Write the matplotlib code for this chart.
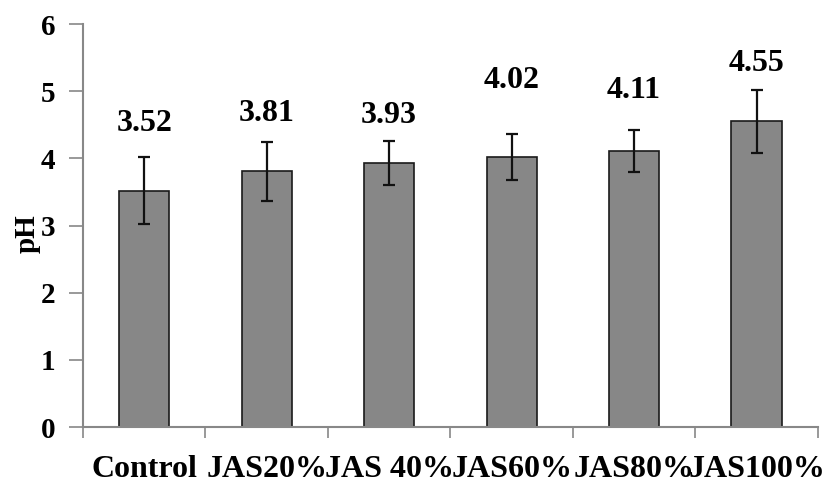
import numpy as np
import matplotlib
matplotlib.use('Agg')
import matplotlib.pyplot as plt

categories = ['Control', 'JAS20%', 'JAS 40%', 'JAS60%', 'JAS80%', 'JAS100%']
ph_values = [3.52, 3.81, 3.93, 4.02, 4.11, 4.55]
ph_errors = [0.50, 0.44, 0.33, 0.34, 0.31, 0.47]
# heights where the Excel-style data labels sit (hand placed in the original)
label_heights = [4.52, 4.67, 4.64, 5.16, 5.01, 5.41]
y_ticks = [0, 1, 2, 3, 4, 5, 6]

plt.rcParams['font.family'] = ['Liberation Serif', 'DejaVu Serif']
plt.rcParams['font.weight'] = 'bold'

fig = plt.figure(figsize=(8.26, 4.91), dpi=100)
ax = fig.add_axes([0.1005, 0.1303, 0.8895, 0.8207])

x = np.arange(len(categories))
ax.bar(x, ph_values, width=0.41, color='#878787', edgecolor='#1a1a1a', linewidth=1.2, zorder=2)
ax.errorbar(x, ph_values, yerr=ph_errors, fmt='none', ecolor='#111111',
            elinewidth=1.6, capsize=4, capthick=1.6, zorder=3)

for xi, v, h in zip(x, ph_values, label_heights):
    ax.text(xi, h, f'{v:.2f}', ha='center', va='center', fontsize=23, fontweight='bold')

ax.set_xlim(-0.5, len(categories) - 0.5)
ax.set_ylim(0, 6)
ax.set_yticks(y_ticks)
ax.set_xticks(x)
ax.set_xticklabels(categories)
ax.set_xticks(np.arange(len(categories) + 1) - 0.5, minor=True)

ax.tick_params(axis='x', which='major', length=0, pad=20, labelsize=23)
ax.tick_params(axis='x', which='minor', length=8, width=1.2, color='#888888', direction='out')
ax.tick_params(axis='y', length=10, width=1.2, color='#888888', direction='out', labelsize=21, pad=10)
for lbl in ax.get_xticklabels() + ax.get_yticklabels():
    lbl.set_fontweight('bold')

for side in ['top', 'right']:
    ax.spines[side].set_visible(False)
for side in ['left', 'bottom']:
    ax.spines[side].set_color('#888888')
    ax.spines[side].set_linewidth(1.5)

ax.set_ylabel('pH', fontsize=21, fontweight='bold')
ax.yaxis.set_label_coords(-0.058, 0.48)

fig.savefig('out.png', dpi=100)
